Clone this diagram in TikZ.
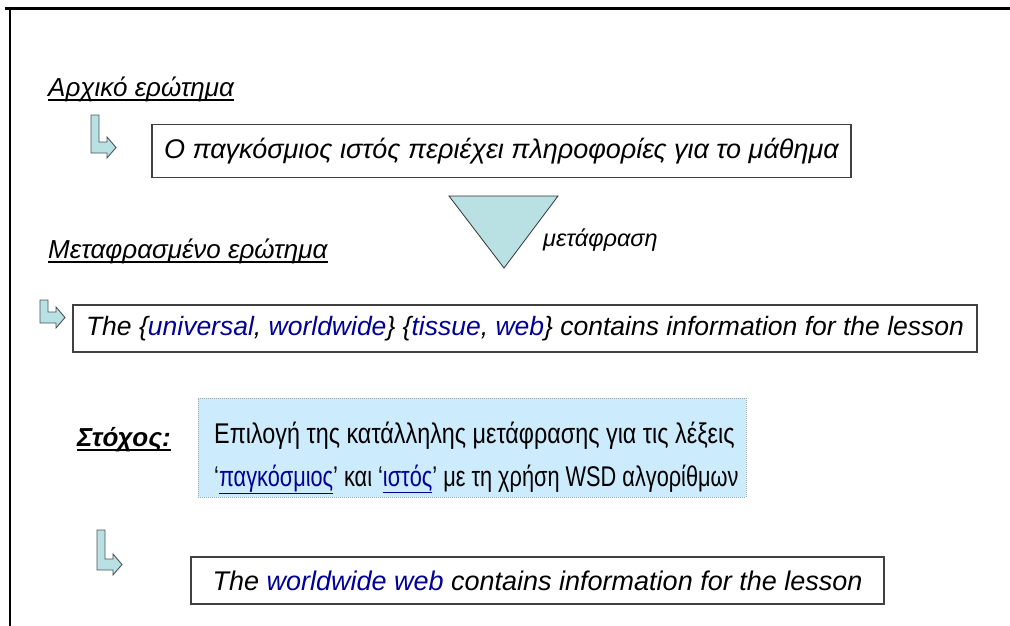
\documentclass[tikz,border=0pt]{standalone}
\usepackage{fontspec}
\setmainfont{Liberation Sans}
\newfontfamily\goalfontA{Liberation Sans}[FakeStretch=0.82]
\newfontfamily\goalfontB{Liberation Sans}[FakeStretch=0.763]
\definecolor{arrowfill}{HTML}{B9E0E3}
\definecolor{arrowline}{HTML}{4A5558}
\definecolor{goalfill}{HTML}{CCEBFC}
\definecolor{goalline}{HTML}{9AA8B0}
\definecolor{wordblue}{HTML}{000099}
\newcommand{\wb}[1]{\textcolor{wordblue}{#1}}
\newcommand{\wbu}[1]{\textcolor{wordblue}{\underline{#1}}}
\tikzset{
  framebox/.style={draw=black!75, line width=1.2pt, inner sep=0pt, fill=white,
    font=\fontsize{27}{32}\selectfont\itshape},
  heading/.style={inner sep=0pt, anchor=base west, font=\fontsize{26}{30}\selectfont\itshape},
  goaltext/.style={inner sep=0pt, anchor=base west},
  uline/.style={line width=1.3pt},
  bent/.pic={
    \draw[fill=arrowfill, draw=arrowline, line width=0.9pt, line join=miter]
      (0,0) -- (8,0) -- (8,#1-11) -- (16,#1-11) -- (16,#1-16) -- (25,#1-5.5)
      -- (16,#1+5) -- (16,#1) -- (0,#1) -- cycle;
  }
}
\begin{document}
\begin{tikzpicture}[x=1pt, y=-1pt]
\useasboundingbox (0,0) rectangle (1010,626);

% slide frame
\draw[line width=3pt] (5,9) -- (1010,9);
\draw[line width=1.5pt] (10,9) -- (10,626);

% original question
\node[heading] (h1) at (48,96) {Αρχικό ερώτημα};
\draw[uline] ([yshift=-4pt]h1.base west) -- ([yshift=-4pt]h1.base east);
\pic at (91,115) {bent=38};
\node[framebox, minimum width=699pt, minimum height=53pt] (q1) at (501.5,151)
  {Ο παγκόσμιος ιστός περιέχει πληροφορίες για το μάθημα};

% translation step
\draw[fill=arrowfill, draw=black!80, line width=0.8pt] (449,196) -- (558,196) -- (504,268) -- cycle;
\node[inner sep=0pt, anchor=west, font=\fontsize{23.5}{28}\selectfont\itshape] (tr) at (543,240) {μετάφραση};

% translated question
\node[heading] (h2) at (48,258) {Μεταφρασμένο ερώτημα};
\draw[uline] ([yshift=-4pt]h2.base west) -- ([yshift=-4pt]h2.base east);
\pic at (40,300) {bent=23};
\node[framebox, minimum width=904pt, minimum height=47pt,
  font=\fontsize{26.5}{32}\selectfont\itshape] (q2) at (525,328.5)
  {The \{\wb{universal}, \wb{worldwide}\} \{\wb{tissue}, \wb{web}\} contains information for the lesson};

% goal
\node[heading, font=\fontsize{26}{30}\selectfont\bfseries\itshape] (goal) at (77,446) {Στόχος:};
\draw[uline] ([yshift=-4pt]goal.base west) -- ([yshift=-4pt]goal.base east);
\node[draw=goalline, densely dotted, line width=1pt, fill=goalfill, minimum width=548pt,
  minimum height=99pt, inner sep=0pt] (g) at (472,447.5) {};
\node[goaltext, font=\goalfontA\fontsize{28.5}{34}\selectfont] (g1) at (214,443)
  {Επιλογή της κατάλληλης μετάφρασης για τις λέξεις};
\node[goaltext, font=\goalfontB\fontsize{28.5}{34}\selectfont] (g2) at (214,486)
  {‘\wbu{παγκόσμιος}’ και ‘\wbu{ιστός}’ με τη χρήση WSD αλγορίθμων};

% result
\pic at (97,530) {bent=40};
\node[framebox, minimum width=693pt, minimum height=47pt] (q3) at (537.5,580.5)
  {The \wb{worldwide web} contains information for the lesson};
\end{tikzpicture}
\end{document}
